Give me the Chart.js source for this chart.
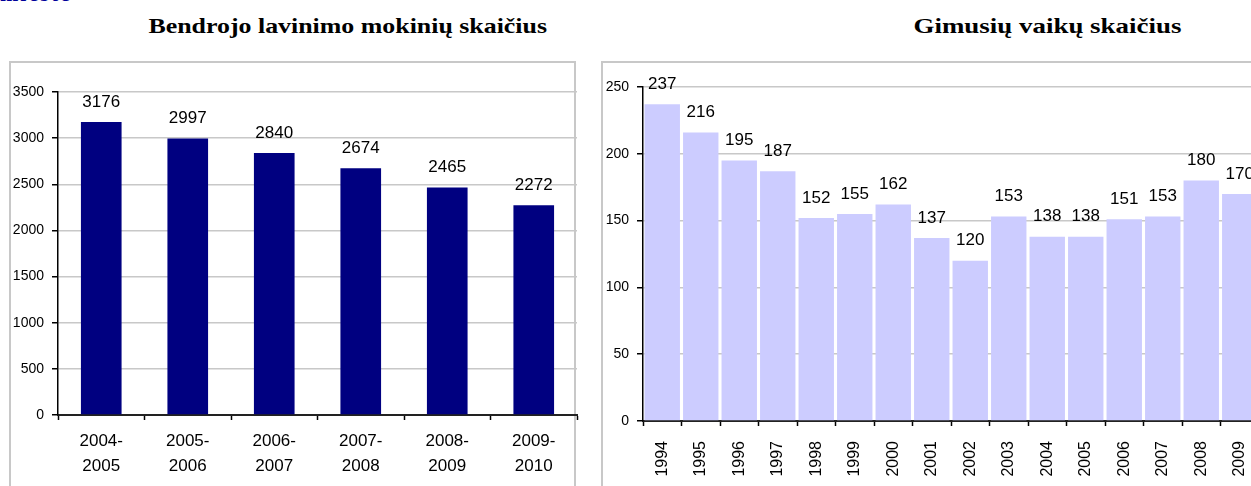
<!DOCTYPE html>
<html>
<head>
<meta charset="utf-8">
<script src="https://cdn.jsdelivr.net/npm/chart.js@4.4.1/dist/chart.umd.min.js"></script>
<style>
  html, body { margin: 0; padding: 0; background: #ffffff; }
  body { width: 1251px; height: 486px; overflow: hidden; position: relative; font-family: "Liberation Sans", Arial, sans-serif; }
  .top-link { position: absolute; left: 0; top: -19px; font-family: "Liberation Serif", serif; font-weight: bold; font-size: 22px; color: #000099; letter-spacing: 2px; }
  .title { position: absolute; top: 14px; font-family: "Liberation Serif", "Times New Roman", serif; font-weight: bold; font-size: 21px; color: #000; white-space: nowrap; transform-origin: center center; }
  .box { position: absolute; border: 2px solid #c8c8c8; box-sizing: border-box; }
  canvas { position: absolute; }
</style>
</head>
<body>
<div class="top-link">mieste</div>
<div class="title" id="t1" style="left:347px;">Bendrojo lavinimo mokinių skaičius</div>
<div class="title" id="t2" style="left:1047px;">Gimusių vaikų skaičius</div>
<div class="box" style="left:9px; top:61px; width:567px; height:440px;"></div>
<div class="box" style="left:601px; top:61px; width:700px; height:440px;"></div>
<canvas id="c1" width="570" height="430" style="left:12px; top:64px;"></canvas>
<canvas id="c2" width="700" height="430" style="left:604px; top:64px;"></canvas>
<script>
// ---- data ----
const schoolYears = [['2004-', '2005'], ['2005-', '2006'], ['2006-', '2007'], ['2007-', '2008'], ['2008-', '2009'], ['2009-', '2010']];
const pupils = [3176, 2997, 2840, 2674, 2465, 2272];
const pupilsAxisMax = 3500;
const pupilsAxisStep = 500;

const birthYears = ['1994', '1995', '1996', '1997', '1998', '1999', '2000', '2001', '2002', '2003', '2004', '2005', '2006', '2007', '2008', '2009'];
const births = [237, 216, 195, 187, 152, 155, 162, 137, 120, 153, 138, 138, 151, 153, 180, 170];
const birthsAxisMax = 250;
const birthsAxisStep = 50;

// center titles
['t1', 't2'].forEach(id => {
  const el = document.getElementById(id);
  const w = el.offsetWidth;
  const target = id === 't1' ? 398 : 268;
  const cx = parseFloat(el.style.left);
  el.style.left = (cx - w / 2) + 'px';
  el.style.transform = 'scaleX(' + (target / w) + ')';
});

const FONT = '"Liberation Sans", Arial, sans-serif';

const valueLabels = {
  id: 'valueLabels',
  afterDatasetsDraw(chart) {
    const ctx = chart.ctx;
    ctx.save();
    ctx.font = '17px ' + FONT;
    ctx.fillStyle = '#000';
    ctx.textAlign = 'center';
    ctx.textBaseline = 'middle';
    chart.data.datasets.forEach((ds, di) => {
      chart.getDatasetMeta(di).data.forEach((bar, i) => {
        ctx.fillText(String(ds.data[i]), bar.x, bar.y - 20);
      });
    });
    ctx.restore();
  }
};

function makeChart(canvasId, labels, data, color, barPct, yMax, yStep, cfg) {
  return new Chart(document.getElementById(canvasId), {
    type: 'bar',
    data: {
      labels: labels,
      datasets: [{ data: data, backgroundColor: color, borderWidth: 0, barPercentage: barPct, categoryPercentage: 1 }]
    },
    options: {
      responsive: false,
      animation: false,
      devicePixelRatio: 1,
      layout: { padding: cfg.padding },
      plugins: { legend: { display: false }, tooltip: { enabled: false } },
      scales: {
        x: {
          grid: { display: true, drawOnChartArea: false, drawTicks: true, tickLength: 5, tickColor: '#000', tickWidth: 1.5, offset: true },
          border: { display: true, color: '#222', width: 2 },
          ticks: Object.assign({ color: '#000', autoSkip: false, font: { family: FONT, size: cfg.xFont, lineHeight: 1.45 }, padding: cfg.xPad }, cfg.xTicks || {}),
          afterFit(scale) { scale.height = cfg.xHeight; }
        },
        y: {
          min: 0, max: yMax,
          grid: { color: '#c8c8c8', lineWidth: 1.5, tickLength: 6, tickColor: '#000', tickWidth: 1.5 },
          border: { display: true, color: '#000', width: 1.5 },
          ticks: { stepSize: yStep, color: '#000', font: { family: FONT, size: 14 }, padding: 8, callback: v => String(v) },
          afterFit(scale) { scale.width = cfg.yWidth; }
        }
      }
    },
    plugins: [valueLabels]
  });
}

makeChart('c1', schoolYears, pupils, '#000080', 0.47, pupilsAxisMax, pupilsAxisStep, {
  padding: { top: 28, right: 5, left: 0, bottom: 0 },
  xHeight: 79, yWidth: 46, xFont: 17, xPad: 9
});

makeChart('c2', birthYears, births, '#ccccff', 0.92, birthsAxisMax, birthsAxisStep, {
  padding: { top: 23, right: 45, left: 0, bottom: 0 },
  xHeight: 73, yWidth: 39, xFont: 16, xPad: 15,
  xTicks: { minRotation: 90, maxRotation: 90 }
});
</script>
</body>
</html>
